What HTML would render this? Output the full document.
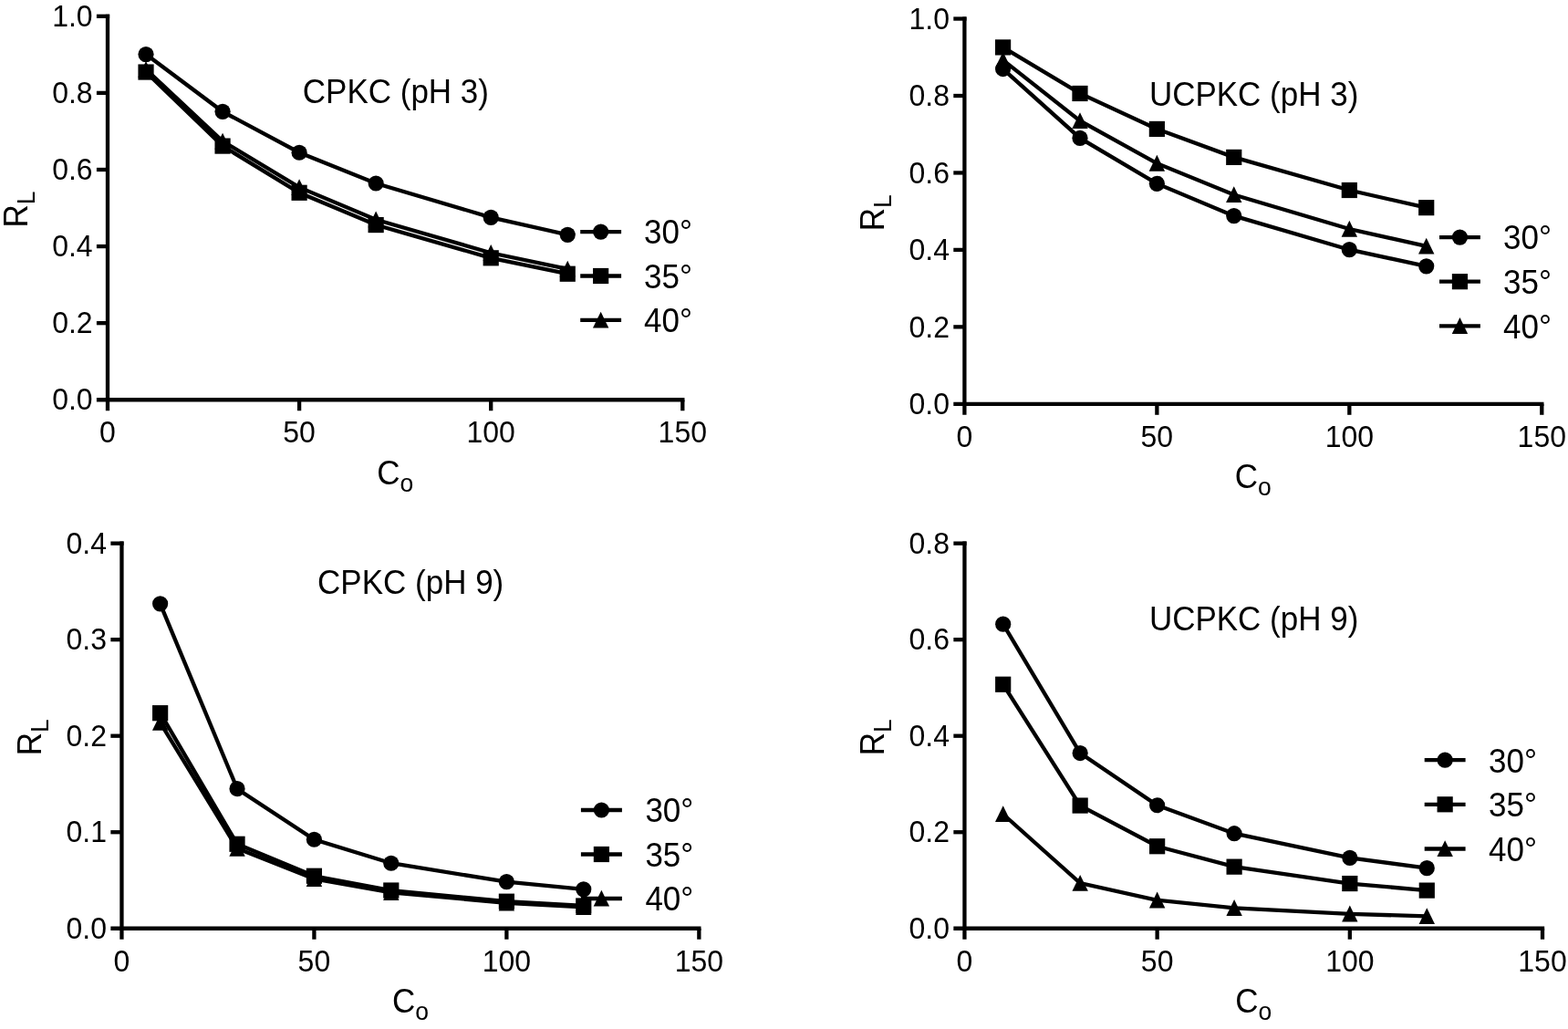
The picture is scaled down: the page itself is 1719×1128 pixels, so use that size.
<!DOCTYPE html>
<html><head><meta charset="utf-8"><title>RL vs Co</title>
<style>html,body{margin:0;padding:0;background:#fff}svg{display:block}text{font-family:"Liberation Sans", sans-serif;fill:#000}</style>
</head><body>
<svg width="1719" height="1128" viewBox="0 0 1719 1128">
<rect width="1719" height="1128" fill="#fff"/>
<g fill="none" stroke="#000" stroke-width="4.3"><path d="M118.00,15.65 V450.25" /><path d="M105.90,438.25 H750.45" /><path d="M328.10,438.25 V450.25" /><path d="M538.20,438.25 V450.25" /><path d="M748.30,438.25 V450.25" /><path d="M105.90,354.16 H118.00" /><path d="M105.90,270.07 H118.00" /><path d="M105.90,185.98 H118.00" /><path d="M105.90,101.89 H118.00" /><path d="M105.90,17.80 H120.15" /></g>
<g font-size="32"><text transform="translate(118.00 485.05) scale(1 1.02)" text-anchor="middle">0</text><text transform="translate(328.10 485.05) scale(1 1.02)" text-anchor="middle">50</text><text transform="translate(538.20 485.05) scale(1 1.02)" text-anchor="middle">100</text><text transform="translate(748.30 485.05) scale(1 1.02)" text-anchor="middle">150</text><text transform="translate(101.60 449.45) scale(1 1.02)" text-anchor="end">0.0</text><text transform="translate(101.60 365.36) scale(1 1.02)" text-anchor="end">0.2</text><text transform="translate(101.60 281.27) scale(1 1.02)" text-anchor="end">0.4</text><text transform="translate(101.60 197.18) scale(1 1.02)" text-anchor="end">0.6</text><text transform="translate(101.60 113.09) scale(1 1.02)" text-anchor="end">0.8</text><text transform="translate(101.60 29.00) scale(1 1.02)" text-anchor="end">1.0</text></g>
<g><polyline fill="none" stroke="#000" stroke-width="4.3" points="160.02,59.57 244.06,122.34 328.10,167.25 412.14,200.99 538.20,238.32 622.24,257.30"/><circle cx="160.02" cy="59.57" r="8.6"/><circle cx="244.06" cy="122.34" r="8.6"/><circle cx="328.10" cy="167.25" r="8.6"/><circle cx="412.14" cy="200.99" r="8.6"/><circle cx="538.20" cy="238.32" r="8.6"/><circle cx="622.24" cy="257.30" r="8.6"/><polyline fill="none" stroke="#000" stroke-width="4.3" points="160.02,79.04 244.06,160.08 328.10,211.29 412.14,246.57 538.20,282.82 622.24,300.22"/><rect x="151.42" y="70.44" width="17.2" height="17.2"/><rect x="235.46" y="151.48" width="17.2" height="17.2"/><rect x="319.50" y="202.69" width="17.2" height="17.2"/><rect x="403.54" y="237.97" width="17.2" height="17.2"/><rect x="529.60" y="274.22" width="17.2" height="17.2"/><rect x="613.64" y="291.62" width="17.2" height="17.2"/><polyline fill="none" stroke="#000" stroke-width="4.3" points="160.02,76.17 244.06,154.85 328.10,205.44 412.14,240.71 538.20,277.28 622.24,294.97"/><polygon points="160.02,66.97 168.72,84.77 151.32,84.77"/><polygon points="244.06,145.65 252.76,163.45 235.36,163.45"/><polygon points="328.10,196.24 336.80,214.04 319.40,214.04"/><polygon points="412.14,231.51 420.84,249.31 403.44,249.31"/><polygon points="538.20,268.08 546.90,285.88 529.50,285.88"/><polygon points="622.24,285.77 630.94,303.57 613.54,303.57"/><path d="M636.20,254.10 H681.10" fill="none" stroke="#000" stroke-width="4.3"/><circle cx="658.65" cy="254.10" r="8.6"/><path d="M636.20,302.50 H681.10" fill="none" stroke="#000" stroke-width="4.3"/><rect x="650.05" y="293.90" width="17.2" height="17.2"/><path d="M636.20,350.90 H681.10" fill="none" stroke="#000" stroke-width="4.3"/><polygon points="658.65,341.70 667.35,359.50 649.95,359.50"/></g>
<g font-size="35"><text transform="translate(706.00 267.40) scale(1 1.035)">30°</text><text transform="translate(706.00 315.80) scale(1 1.035)">35°</text><text transform="translate(706.00 364.20) scale(1 1.035)">40°</text><text transform="translate(331.80 112.90) scale(1 1.035)">CPKC (pH 3)</text><text transform="translate(433.15 530.65) scale(1 1.035)" text-anchor="middle">C<tspan font-size="26.5" dy="7.7">o</tspan></text><text transform="translate(29.70 229.53) rotate(-90) scale(1 1.035)" text-anchor="middle">R<tspan font-size="26.5" dy="7.7">L</tspan></text></g>
<g fill="none" stroke="#000" stroke-width="4.3"><path d="M1057.40,18.40 V454.80" /><path d="M1045.30,442.80 H1692.45" /><path d="M1268.37,442.80 V454.80" /><path d="M1479.33,442.80 V454.80" /><path d="M1690.30,442.80 V454.80" /><path d="M1045.30,358.35 H1057.40" /><path d="M1045.30,273.90 H1057.40" /><path d="M1045.30,189.45 H1057.40" /><path d="M1045.30,105.00 H1057.40" /><path d="M1045.30,20.55 H1059.55" /></g>
<g font-size="32"><text transform="translate(1057.40 489.60) scale(1 1.02)" text-anchor="middle">0</text><text transform="translate(1268.37 489.60) scale(1 1.02)" text-anchor="middle">50</text><text transform="translate(1479.33 489.60) scale(1 1.02)" text-anchor="middle">100</text><text transform="translate(1690.30 489.60) scale(1 1.02)" text-anchor="middle">150</text><text transform="translate(1041.00 454.00) scale(1 1.02)" text-anchor="end">0.0</text><text transform="translate(1041.00 369.55) scale(1 1.02)" text-anchor="end">0.2</text><text transform="translate(1041.00 285.10) scale(1 1.02)" text-anchor="end">0.4</text><text transform="translate(1041.00 200.65) scale(1 1.02)" text-anchor="end">0.6</text><text transform="translate(1041.00 116.20) scale(1 1.02)" text-anchor="end">0.8</text><text transform="translate(1041.00 31.75) scale(1 1.02)" text-anchor="end">1.0</text></g>
<g><polyline fill="none" stroke="#000" stroke-width="4.3" points="1099.59,75.53 1183.98,151.41 1268.37,201.31 1352.75,236.61 1479.33,273.70 1563.72,291.80"/><circle cx="1099.59" cy="75.53" r="8.6"/><circle cx="1183.98" cy="151.41" r="8.6"/><circle cx="1268.37" cy="201.31" r="8.6"/><circle cx="1352.75" cy="236.61" r="8.6"/><circle cx="1479.33" cy="273.70" r="8.6"/><circle cx="1563.72" cy="291.80" r="8.6"/><polyline fill="none" stroke="#000" stroke-width="4.3" points="1099.59,51.91 1183.98,102.46 1268.37,141.43 1352.75,172.39 1479.33,208.50 1563.72,227.66"/><rect x="1090.99" y="43.31" width="17.2" height="17.2"/><rect x="1175.38" y="93.86" width="17.2" height="17.2"/><rect x="1259.77" y="132.83" width="17.2" height="17.2"/><rect x="1344.15" y="163.79" width="17.2" height="17.2"/><rect x="1470.73" y="199.90" width="17.2" height="17.2"/><rect x="1555.12" y="219.06" width="17.2" height="17.2"/><polyline fill="none" stroke="#000" stroke-width="4.3" points="1099.59,65.86 1183.98,132.46 1268.37,179.06 1352.75,213.49 1479.33,251.04 1563.72,269.92"/><polygon points="1099.59,56.66 1108.29,74.46 1090.89,74.46"/><polygon points="1183.98,123.26 1192.68,141.06 1175.28,141.06"/><polygon points="1268.37,169.86 1277.07,187.66 1259.66,187.66"/><polygon points="1352.75,204.29 1361.45,222.09 1344.05,222.09"/><polygon points="1479.33,241.84 1488.03,259.64 1470.63,259.64"/><polygon points="1563.72,260.72 1572.42,278.52 1555.02,278.52"/><path d="M1578.00,260.10 H1622.90" fill="none" stroke="#000" stroke-width="4.3"/><circle cx="1600.45" cy="260.10" r="8.6"/><path d="M1578.00,308.70 H1622.90" fill="none" stroke="#000" stroke-width="4.3"/><rect x="1591.85" y="300.10" width="17.2" height="17.2"/><path d="M1578.00,357.30 H1622.90" fill="none" stroke="#000" stroke-width="4.3"/><polygon points="1600.45,348.10 1609.15,365.90 1591.75,365.90"/></g>
<g font-size="35"><text transform="translate(1648.00 273.40) scale(1 1.035)">30°</text><text transform="translate(1648.00 322.00) scale(1 1.035)">35°</text><text transform="translate(1648.00 370.60) scale(1 1.035)">40°</text><text transform="translate(1259.90 115.60) scale(1 1.035)">UCPKC (pH 3)</text><text transform="translate(1373.85 535.20) scale(1 1.035)" text-anchor="middle">C<tspan font-size="26.5" dy="7.7">o</tspan></text><text transform="translate(969.10 233.18) rotate(-90) scale(1 1.035)" text-anchor="middle">R<tspan font-size="26.5" dy="7.7">L</tspan></text></g>
<g fill="none" stroke="#000" stroke-width="4.3"><path d="M133.45,593.50 V1029.75" /><path d="M121.35,1017.75 H768.50" /><path d="M344.41,1017.75 V1029.75" /><path d="M555.38,1017.75 V1029.75" /><path d="M766.35,1017.75 V1029.75" /><path d="M121.35,912.23 H133.45" /><path d="M121.35,806.70 H133.45" /><path d="M121.35,701.17 H133.45" /><path d="M121.35,595.65 H135.60" /></g>
<g font-size="32"><text transform="translate(133.45 1064.55) scale(1 1.02)" text-anchor="middle">0</text><text transform="translate(344.41 1064.55) scale(1 1.02)" text-anchor="middle">50</text><text transform="translate(555.38 1064.55) scale(1 1.02)" text-anchor="middle">100</text><text transform="translate(766.35 1064.55) scale(1 1.02)" text-anchor="middle">150</text><text transform="translate(117.05 1028.95) scale(1 1.02)" text-anchor="end">0.0</text><text transform="translate(117.05 923.43) scale(1 1.02)" text-anchor="end">0.1</text><text transform="translate(117.05 817.90) scale(1 1.02)" text-anchor="end">0.2</text><text transform="translate(117.05 712.38) scale(1 1.02)" text-anchor="end">0.3</text><text transform="translate(117.05 606.85) scale(1 1.02)" text-anchor="end">0.4</text></g>
<g><polyline fill="none" stroke="#000" stroke-width="4.3" points="175.64,661.85 260.03,864.70 344.41,920.27 428.80,946.23 555.38,966.65 639.77,974.82"/><circle cx="175.64" cy="661.85" r="8.6"/><circle cx="260.03" cy="864.70" r="8.6"/><circle cx="344.41" cy="920.27" r="8.6"/><circle cx="428.80" cy="946.23" r="8.6"/><circle cx="555.38" cy="966.65" r="8.6"/><circle cx="639.77" cy="974.82" r="8.6"/><polyline fill="none" stroke="#000" stroke-width="4.3" points="175.64,781.68 260.03,925.27 344.41,960.24 428.80,976.02 555.38,988.19 639.77,993.00"/><rect x="167.04" y="773.08" width="17.2" height="17.2"/><rect x="251.43" y="916.67" width="17.2" height="17.2"/><rect x="335.81" y="951.64" width="17.2" height="17.2"/><rect x="420.20" y="967.42" width="17.2" height="17.2"/><rect x="546.78" y="979.59" width="17.2" height="17.2"/><rect x="631.17" y="984.40" width="17.2" height="17.2"/><polyline fill="none" stroke="#000" stroke-width="4.3" points="175.64,792.12 260.03,930.04 344.41,963.31 428.80,978.29 555.38,989.81 639.77,994.36"/><polygon points="175.64,782.92 184.34,800.72 166.94,800.72"/><polygon points="260.03,920.84 268.73,938.64 251.33,938.64"/><polygon points="344.41,954.11 353.11,971.91 335.71,971.91"/><polygon points="428.80,969.09 437.50,986.89 420.10,986.89"/><polygon points="555.38,980.61 564.08,998.41 546.68,998.41"/><polygon points="639.77,985.16 648.47,1002.96 631.07,1002.96"/><path d="M636.90,888.00 H681.90" fill="none" stroke="#000" stroke-width="4.3"/><circle cx="659.40" cy="888.00" r="8.6"/><path d="M636.90,936.50 H681.90" fill="none" stroke="#000" stroke-width="4.3"/><rect x="650.80" y="927.90" width="17.2" height="17.2"/><path d="M636.90,985.00 H681.90" fill="none" stroke="#000" stroke-width="4.3"/><polygon points="659.40,975.80 668.10,993.60 650.70,993.60"/></g>
<g font-size="35"><text transform="translate(707.40 901.30) scale(1 1.035)">30°</text><text transform="translate(707.40 949.80) scale(1 1.035)">35°</text><text transform="translate(707.40 998.30) scale(1 1.035)">40°</text><text transform="translate(348.10 650.90) scale(1 1.035)">CPKC (pH 9)</text><text transform="translate(449.90 1110.15) scale(1 1.035)" text-anchor="middle">C<tspan font-size="26.5" dy="7.7">o</tspan></text><text transform="translate(45.15 808.20) rotate(-90) scale(1 1.035)" text-anchor="middle">R<tspan font-size="26.5" dy="7.7">L</tspan></text></g>
<g fill="none" stroke="#000" stroke-width="4.3"><path d="M1057.45,593.50 V1029.75" /><path d="M1045.35,1017.75 H1693.16" /><path d="M1268.63,1017.75 V1029.75" /><path d="M1479.82,1017.75 V1029.75" /><path d="M1691.01,1017.75 V1029.75" /><path d="M1045.35,912.23 H1057.45" /><path d="M1045.35,806.70 H1057.45" /><path d="M1045.35,701.17 H1057.45" /><path d="M1045.35,595.65 H1059.60" /></g>
<g font-size="32"><text transform="translate(1057.45 1064.55) scale(1 1.02)" text-anchor="middle">0</text><text transform="translate(1268.63 1064.55) scale(1 1.02)" text-anchor="middle">50</text><text transform="translate(1479.82 1064.55) scale(1 1.02)" text-anchor="middle">100</text><text transform="translate(1691.01 1064.55) scale(1 1.02)" text-anchor="middle">150</text><text transform="translate(1041.05 1028.95) scale(1 1.02)" text-anchor="end">0.0</text><text transform="translate(1041.05 923.43) scale(1 1.02)" text-anchor="end">0.2</text><text transform="translate(1041.05 817.90) scale(1 1.02)" text-anchor="end">0.4</text><text transform="translate(1041.05 712.38) scale(1 1.02)" text-anchor="end">0.6</text><text transform="translate(1041.05 606.85) scale(1 1.02)" text-anchor="end">0.8</text></g>
<g><polyline fill="none" stroke="#000" stroke-width="4.3" points="1099.69,684.17 1184.16,825.54 1268.63,882.76 1353.11,913.72 1479.82,940.35 1564.29,951.63"/><circle cx="1099.69" cy="684.17" r="8.6"/><circle cx="1184.16" cy="825.54" r="8.6"/><circle cx="1268.63" cy="882.76" r="8.6"/><circle cx="1353.11" cy="913.72" r="8.6"/><circle cx="1479.82" cy="940.35" r="8.6"/><circle cx="1564.29" cy="951.63" r="8.6"/><polyline fill="none" stroke="#000" stroke-width="4.3" points="1099.69,750.25 1184.16,883.06 1268.63,927.74 1353.11,950.16 1479.82,968.55 1564.29,976.10"/><rect x="1091.09" y="741.65" width="17.2" height="17.2"/><rect x="1175.56" y="874.46" width="17.2" height="17.2"/><rect x="1260.04" y="919.14" width="17.2" height="17.2"/><rect x="1344.51" y="941.56" width="17.2" height="17.2"/><rect x="1471.22" y="959.95" width="17.2" height="17.2"/><rect x="1555.69" y="967.50" width="17.2" height="17.2"/><polyline fill="none" stroke="#000" stroke-width="4.3" points="1099.69,892.48 1184.16,968.14 1268.63,986.82 1353.11,995.28 1479.82,1001.82 1564.29,1004.41"/><polygon points="1099.69,883.28 1108.39,901.08 1090.99,901.08"/><polygon points="1184.16,958.94 1192.86,976.74 1175.46,976.74"/><polygon points="1268.63,977.62 1277.34,995.42 1259.93,995.42"/><polygon points="1353.11,986.08 1361.81,1003.88 1344.41,1003.88"/><polygon points="1479.82,992.62 1488.52,1010.42 1471.12,1010.42"/><polygon points="1564.29,995.21 1572.99,1013.01 1555.59,1013.01"/><path d="M1561.70,833.20 H1606.60" fill="none" stroke="#000" stroke-width="4.3"/><circle cx="1584.15" cy="833.20" r="8.6"/><path d="M1561.70,881.80 H1606.60" fill="none" stroke="#000" stroke-width="4.3"/><rect x="1575.55" y="873.20" width="17.2" height="17.2"/><path d="M1561.70,930.50 H1606.60" fill="none" stroke="#000" stroke-width="4.3"/><polygon points="1584.15,921.30 1592.85,939.10 1575.45,939.10"/></g>
<g font-size="35"><text transform="translate(1632.00 846.50) scale(1 1.035)">30°</text><text transform="translate(1632.00 895.10) scale(1 1.035)">35°</text><text transform="translate(1632.00 943.80) scale(1 1.035)">40°</text><text transform="translate(1259.90 690.80) scale(1 1.035)">UCPKC (pH 9)</text><text transform="translate(1374.23 1110.15) scale(1 1.035)" text-anchor="middle">C<tspan font-size="26.5" dy="7.7">o</tspan></text><text transform="translate(969.15 808.20) rotate(-90) scale(1 1.035)" text-anchor="middle">R<tspan font-size="26.5" dy="7.7">L</tspan></text></g>
</svg>
</body></html>
